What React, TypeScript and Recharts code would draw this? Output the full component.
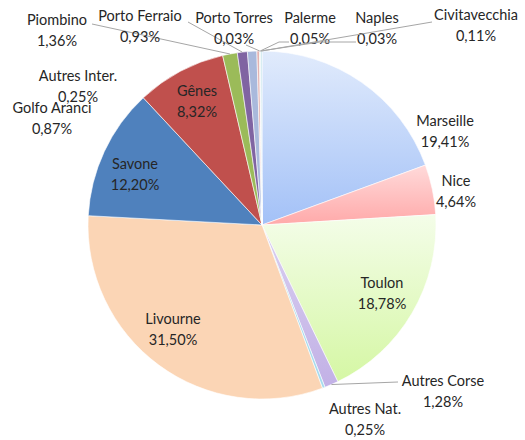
import React from 'react';
import { PieChart, Pie, Cell } from 'recharts';

const names = [
  'Marseille', 'Nice', 'Toulon', 'Autres Corse', 'Autres Nat.', 'Livourne', 'Savone', 'Gênes',
  'Piombino', 'Porto Ferraio', 'Golfo Aranci', 'Autres Inter.', 'Porto Torres', 'Palerme', 'Naples', 'Civitavecchia',
];
const shares = [19.41, 4.64, 18.78, 1.28, 0.25, 31.5, 12.2, 8.32, 1.36, 0.93, 0.87, 0.25, 0.03, 0.05, 0.03, 0.11];
const shareLabels = [
  '19,41%', '4,64%', '18,78%', '1,28%', '0,25%', '31,50%', '12,20%', '8,32%',
  '1,36%', '0,93%', '0,87%', '0,25%', '0,03%', '0,05%', '0,03%', '0,11%',
];

const data = names.map((n, i) => ({ name: n, value: shares[i], label: shareLabels[i] }));

// fills: gradients for French ports, plain colours for others
const fills = [
  'url(#gMarseille)', 'url(#gNice)', 'url(#gToulon)', 'url(#gCorse)', '#a6dbee', '#fbd5b5', '#4f81bd', '#c0504d',
  '#9bbb59', '#8064a2', '#a9b9dc', '#e3b3b2', '#c3d69b', '#b3a2c7', '#93cddd', '#b7dee8',
];

// label layout: text centre (x, y of first line) and optional leader line end
const labelLayout: Record<string, { x: number; y: number; lx?: number; ly?: number; via?: [number, number] }> = {
  'Marseille': { x: 445, y: 120 },
  'Nice': { x: 456, y: 180 },
  'Toulon': { x: 382, y: 282 },
  'Autres Corse': { x: 443, y: 380, lx: 398, ly: 382 },
  'Autres Nat.': { x: 365, y: 408 },
  'Livourne': { x: 173, y: 318 },
  'Savone': { x: 135, y: 163 },
  'Gênes': { x: 197, y: 90 },
  'Piombino': { x: 57, y: 19, lx: 92, ly: 24 },
  'Porto Ferraio': { x: 140, y: 15, lx: 188, ly: 22 },
  'Golfo Aranci': { x: 52, y: 107 },
  'Autres Inter.': { x: 78, y: 75 },
  'Porto Torres': { x: 234, y: 17, lx: 246, ly: 45 },
  'Palerme': { x: 310, y: 17, lx: 289, ly: 42, via: [279, 42] },
  'Naples': { x: 377, y: 38 - 21, lx: 356, ly: 42, via: [320, 42] },
  'Civitavecchia': { x: 476, y: 14, lx: 432, ly: 22 },
};

const RAD = Math.PI / 180;
const FONT = 'Lato, "Open Sans", sans-serif';

const renderLabel = (props: any) => {
  const { cx, cy, midAngle, outerRadius, index } = props;
  const d = data[index];
  const lay = labelLayout[d.name];
  if (!lay) return null;
  const ex = cx + outerRadius * Math.cos(-midAngle * RAD);
  const ey = cy + outerRadius * Math.sin(-midAngle * RAD);
  let line = null;
  if (lay.lx !== undefined && lay.ly !== undefined) {
    const pts = lay.via
      ? `${lay.lx},${lay.ly} ${lay.via[0]},${lay.via[1]} ${ex},${ey}`
      : `${lay.lx},${lay.ly} ${ex},${ey}`;
    line = <polyline points={pts} fill="none" stroke="#a6a6a6" strokeWidth={1} />;
  }
  return (
    <g key={`lab-${index}`}>
      {line}
      <text x={lay.x} y={lay.y} textAnchor="middle" dominantBaseline="central" fill="#262626" fontSize={14.5} fontFamily={FONT}>
        <tspan x={lay.x} dy={0}>{d.name}</tspan>
        <tspan x={lay.x} dy={21}>{d.label}</tspan>
      </text>
    </g>
  );
};

export default function App() {
  return (
    <div style={{ position: 'absolute', left: 0, top: 0, width: 525, height: 440, background: '#fff' }}>
      <PieChart width={525} height={440} margin={{ top: 0, right: 0, bottom: 0, left: 0 }}>
        <defs>
          <linearGradient id="gMarseille" x1="0" y1="0" x2="0" y2="1">
            <stop offset="0%" stopColor="#e1ebfc" />
            <stop offset="100%" stopColor="#a3c1f7" />
          </linearGradient>
          <linearGradient id="gNice" x1="0" y1="0" x2="0" y2="1">
            <stop offset="0%" stopColor="#ffdada" />
            <stop offset="100%" stopColor="#ffa9a9" />
          </linearGradient>
          <linearGradient id="gToulon" x1="0" y1="0" x2="0" y2="1">
            <stop offset="0%" stopColor="#f4fde9" />
            <stop offset="100%" stopColor="#d5f7a4" />
          </linearGradient>
          <linearGradient id="gCorse" x1="0" y1="0" x2="0" y2="1">
            <stop offset="0%" stopColor="#d9cff0" />
            <stop offset="100%" stopColor="#c2b1e6" />
          </linearGradient>
        </defs>
        <Pie
          data={data}
          dataKey="value"
          nameKey="name"
          cx={262}
          cy={225}
          outerRadius={174}
          startAngle={90}
          endAngle={-270}
          stroke="#ffffff"
          strokeWidth={0.6}
          isAnimationActive={false}
          labelLine={false}
          label={renderLabel}
        >
          {data.map((d, i) => (
            <Cell key={d.name} fill={fills[i]} />
          ))}
        </Pie>
      </PieChart>
    </div>
  );
}
